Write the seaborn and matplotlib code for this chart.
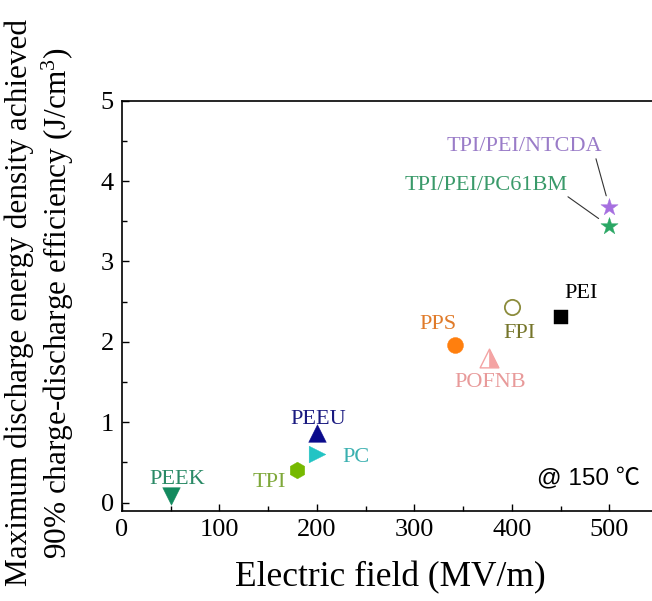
import matplotlib
matplotlib.use("Agg")
import matplotlib.pyplot as plt
from matplotlib.markers import MarkerStyle
from matplotlib.ticker import MultipleLocator
import pandas as pd
import seaborn as sns

# Dielectric polymers: breakdown field vs. energy density at 90 % efficiency (150 °C)
materials = ["PEEK", "TPI", "PEEU", "PC", "PPS", "POFNB", "FPI", "PEI",
             "TPI/PEI/PC61BM", "TPI/PEI/NTCDA"]
field = [50, 180, 200, 200, 342, 377, 400, 450, 500, 500]
energy = [0.08, 0.41, 0.87, 0.61, 1.96, 1.80, 2.43, 2.31, 3.44, 3.68]

marker_shapes = ["v", "h", "^", ">", "o", "^", "o", "s", "*", "*"]
marker_sizes = [12.7, 12, 12.7, 12, 11.5, 13.5, 11, 10.3, 13, 13]
marker_colors = ["#138a5e", "#76b900", "#0b0b8c", "#22c4c4", "#ff7f0e",
                 "#f4a3a3", "#8c8c3c", "#000000", "#2aa764", "#a66fe0"]
label_colors = ["#2a8a66", "#7fa83a", "#1a1a80", "#3ab0b0", "#e07b2a",
                "#e89a9a", "#75752a", "#000000", "#3a9a6a", "#9a7cc8"]
# label centre offsets from each marker, in pixels
label_offsets = [(6.5, 16.7), (-27.7, -12.7), (1.3, 13), (39, -4), (-17, 21),
                 (0.7, -24.7), (7.3, -26.3), (21, 23.4), (-123, 41), (-85.3, 59.8)]
# leader lines for the two blends: start offset (px) and gap at the marker (pt)
leaders = {"TPI/PEI/PC61BM": ((-41.3, 29.3), 9.4),
           "TPI/PEI/NTCDA": ((-13.3, 48.0), 8.2)}

sns.set_theme(style="ticks")
plt.rcParams["font.family"] = ["Liberation Serif", "DejaVu Serif"]
plt.rcParams["mathtext.fontset"] = "custom"
plt.rcParams["mathtext.rm"] = "Liberation Serif"
plt.rcParams["mathtext.default"] = "regular"

df = pd.DataFrame({"material": materials, "field": field, "energy": energy})

fig = plt.figure(figsize=(6.52, 6.01), dpi=100)
ax = fig.add_axes([0.1871, 0.1503, 0.8221, 0.6822])

for i, row in df.iterrows():
    one = df.iloc[[i]]
    mk, ms, col = marker_shapes[i], marker_sizes[i], marker_colors[i]
    if row["material"] == "FPI":
        sns.scatterplot(data=one, x="field", y="energy", marker=mk, s=ms ** 2,
                        color="white", edgecolor=col, linewidth=1.3,
                        ax=ax, legend=False, zorder=3, clip_on=False)
    elif row["material"] == "POFNB":
        sns.scatterplot(data=one, x="field", y="energy", marker=mk, s=ms ** 2,
                        color="white", edgecolor=col, linewidth=1.0,
                        ax=ax, legend=False, zorder=3, clip_on=False)
        sns.scatterplot(data=one, x="field", y="energy",
                        marker=MarkerStyle(mk, fillstyle="right"), s=ms ** 2,
                        color=col, edgecolor=col, linewidth=0.5,
                        ax=ax, legend=False, zorder=4, clip_on=False)
    else:
        sns.scatterplot(data=one, x="field", y="energy", marker=mk, s=ms ** 2,
                        color=col, edgecolor=col, linewidth=0.3,
                        ax=ax, legend=False, zorder=3, clip_on=False)

    dx, dy = label_offsets[i]
    ax.annotate(row["material"], xy=(row["field"], row["energy"]),
                xytext=(dx, dy), textcoords="offset pixels",
                ha="center", va="center", fontsize=16, color=label_colors[i])

    if row["material"] in leaders:
        (sx, sy), gap = leaders[row["material"]]
        ax.annotate("", xy=(row["field"], row["energy"]), xytext=(sx, sy),
                    textcoords="offset pixels",
                    arrowprops=dict(arrowstyle="-", color="#333333", lw=0.8,
                                    shrinkA=0, shrinkB=gap))

ax.set_xlim(0, 550)
ax.set_ylim(-0.1, 5)
ax.xaxis.set_major_locator(MultipleLocator(100))
ax.xaxis.set_minor_locator(MultipleLocator(50))
ax.yaxis.set_major_locator(MultipleLocator(1))
ax.yaxis.set_minor_locator(MultipleLocator(0.5))
ax.tick_params(which="both", direction="in", top=False, right=False,
               width=1.0, color="black", labelsize=19, labelcolor="black")
ax.tick_params(which="major", length=5, pad=6)
ax.tick_params(which="minor", length=3.3)
for side in ["left", "bottom", "top", "right"]:
    ax.spines[side].set_visible(True)
    ax.spines[side].set_linewidth(1.2)
    ax.spines[side].set_color("black")
ax.grid(False)

ax.set_xlabel("")
ax.set_ylabel("")
fig.text(390 / 652, 1 - 578 / 601, "Electric field (MV/m)",
         ha="center", va="center", fontsize=25.5, color="black")
fig.text(40 / 652, 1 - 303 / 601,
         "Maximum discharge energy density achieved\n"
         "90% charge-discharge efficiency (J/cm$^{3}$)",
         ha="center", va="center", rotation=90, fontsize=22.5,
         linespacing=1.2, color="black")

# test-temperature note in the lower-right corner
ax.text((537 - 122) / 536, (510.7 - 479) / 410,
        "@ 150 ℃", transform=ax.transAxes, ha="left", va="center",
        fontsize=17.5, color="black",
        family=["Liberation Sans", "Noto Sans CJK SC", "DejaVu Sans"])

fig.savefig("out.png", dpi=100)
